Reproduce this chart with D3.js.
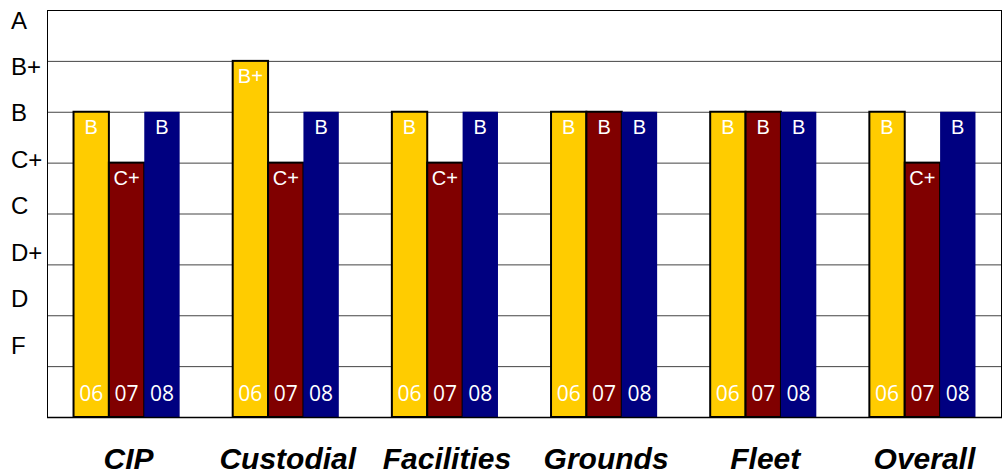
<!DOCTYPE html>
<html>
<head>
<meta charset="utf-8">
<script src="https://cdn.jsdelivr.net/npm/d3@7"></script>
<style>
  body { margin: 0; background: #fff; }
  svg { display: block; }
</style>
</head>
<body>
<div id="chart"></div>
<script>
// grade scale, bottom to top (index 1 = F ... 8 = A)
const grades = ["", "F", "D", "D+", "C", "C+", "B", "B+", "A"];
const gradeLabels = ["A", "B+", "B", "C+", "C", "D+", "D", "F"];
const departments = ["CIP", "Custodial", "Facilities", "Grounds", "Fleet", "Overall"];
const years = ["06", "07", "08"];
const grade06 = ["B", "B+", "B", "B", "B", "B"];
const grade07 = ["C+", "C+", "C+", "B", "B", "C+"];
const grade08 = ["B", "B", "B", "B", "B", "B"];

const colors = { "06": "#ffcc00", "07": "#800000", "08": "#000080" };

const width = 1007, height = 475;
const plotLeft = 47, plotRight = 1002, plotTop = 10, plotBottom = 417;

const svg = d3.select("#chart").append("svg")
  .attr("width", width)
  .attr("height", height);

const x = d3.scaleBand()
  .domain(departments)
  .range([plotLeft, plotRight])
  .paddingInner(1 / 3)
  .paddingOuter(1 / 6);

const xYear = d3.scaleBand()
  .domain(years)
  .range([0, x.bandwidth()]);

const y = d3.scaleLinear()
  .domain([0, 8])
  .range([plotBottom, plotTop]);

// grid lines
svg.append("g")
  .selectAll("line")
  .data(d3.range(1, 8))
  .join("line")
    .attr("x1", plotLeft).attr("x2", plotRight)
    .attr("y1", d => y(d) + 0.5).attr("y2", d => y(d) + 0.5)
    .attr("stroke", "#444")
    .attr("stroke-width", 1);

// plot frame
svg.append("rect")
  .attr("x", plotLeft + 0.5).attr("y", plotTop + 0.5)
  .attr("width", plotRight - plotLeft - 1).attr("height", plotBottom - plotTop)
  .attr("fill", "none")
  .attr("stroke", "#000")
  .attr("stroke-width", 1);

// left grade labels (sit in their own column, not on the grid)
const yLab = d3.scalePoint()
  .domain(gradeLabels)
  .range([20, 345]);

svg.append("g")
  .selectAll("text")
  .data(gradeLabels)
  .join("text")
    .attr("x", 11)
    .attr("y", d => yLab(d))
    .attr("dy", "0.36em")
    .attr("font-family", "Liberation Sans, Arial, sans-serif")
    .attr("font-size", 24)
    .attr("fill", "#000")
    .text(d => d);

// flatten data
const bars = [];
departments.forEach((dep, i) => {
  [grade06, grade07, grade08].forEach((arr, j) => {
    bars.push({ dep, year: years[j], grade: arr[i], v: grades.indexOf(arr[i]) });
  });
});

const g = svg.append("g");

g.selectAll("rect")
  .data(bars)
  .join("rect")
    .attr("x", d => x(d.dep) + xYear(d.year))
    .attr("y", d => y(d.v))
    .attr("width", xYear.bandwidth())
    .attr("height", d => y(0) - y(d.v))
    .attr("fill", d => colors[d.year])
    .attr("stroke", d => d.year === "08" ? "none" : "#000")
    .attr("stroke-width", 2);

// grade text at top of bar
g.selectAll("text.grade")
  .data(bars)
  .join("text")
    .attr("class", "grade")
    .attr("x", d => x(d.dep) + xYear(d.year) + xYear.bandwidth() / 2)
    .attr("y", d => y(d.v) + 22)
    .attr("text-anchor", "middle")
    .attr("font-family", "Liberation Sans, Arial, sans-serif")
    .attr("font-size", 20)
    .attr("fill", "#fff")
    .text(d => d.grade);

// year text at bottom of bar
g.selectAll("text.year")
  .data(bars)
  .join("text")
    .attr("class", "year")
    .attr("x", d => x(d.dep) + xYear(d.year) + xYear.bandwidth() / 2)
    .attr("y", 401)
    .attr("text-anchor", "middle")
    .attr("font-family", "Open Sans, sans-serif")
    .attr("font-size", 21)
    .attr("fill", "#fff")
    .text(d => d.year);

// baseline
svg.append("line")
  .attr("x1", plotLeft).attr("x2", plotRight)
  .attr("y1", plotBottom + 0.5).attr("y2", plotBottom + 0.5)
  .attr("stroke", "#000")
  .attr("stroke-width", 1.5);

// department labels
svg.append("g")
  .selectAll("text")
  .data(departments)
  .join("text")
    .attr("x", d => x(d) + x.bandwidth() / 2 + 2)
    .attr("y", 469)
    .attr("text-anchor", "middle")
    .attr("font-family", "Liberation Sans, Arial, sans-serif")
    .attr("font-size", 30)
    .attr("font-weight", "bold")
    .attr("font-style", "italic")
    .attr("fill", "#000")
    .text(d => d);
</script>
</body>
</html>
